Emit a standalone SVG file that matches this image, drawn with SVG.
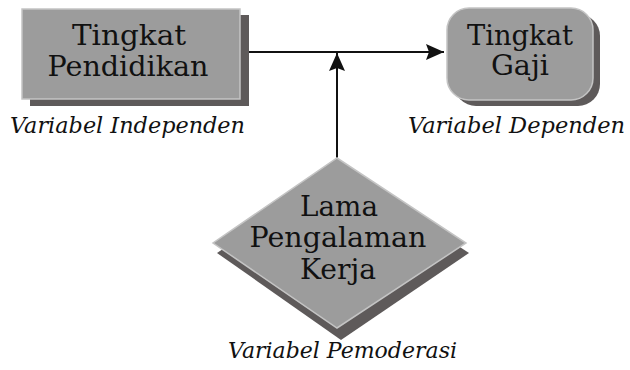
<svg xmlns="http://www.w3.org/2000/svg" width="630" height="370" viewBox="0 0 630 370">
<defs>
<style>
.box{fill:#9c9c9c;stroke:#c4c4c4;stroke-width:1.5}
.shadow{fill:#5e5a5a}
.t{font-family:"DejaVu Serif","Liberation Serif",serif;font-size:27px;fill:#111;text-anchor:middle}
.lbl{font-family:"DejaVu Serif","Liberation Serif",serif;font-style:italic;font-size:22px;fill:#111}
.conn{stroke:#111;stroke-width:2;fill:none}
</style>
<marker id="ah" viewBox="0 0 18 16" refX="18" refY="8" markerWidth="18" markerHeight="16" markerUnits="userSpaceOnUse" orient="auto">
<path d="M0,0 L18,8 L0,16 L3,8 Z" fill="#111"/>
</marker>
</defs>
<rect width="630" height="370" fill="#fff"/>
<g id="connectors">
<line class="conn" x1="249" y1="52" x2="444" y2="52" marker-end="url(#ah)"/>
<line class="conn" x1="337" y1="158" x2="337" y2="53" marker-end="url(#ah)"/>
</g>
<g id="tingkat-pendidikan">
<rect class="shadow" x="30" y="15" width="219" height="91"/>
<rect class="box" x="22" y="9" width="218" height="90"/>
<text class="t" x="129" y="45" textLength="114" lengthAdjust="spacingAndGlyphs">Tingkat</text>
<text class="t" x="128" y="76" textLength="161" lengthAdjust="spacingAndGlyphs">Pendidikan</text>
<text class="lbl" x="10" y="133" textLength="235" lengthAdjust="spacingAndGlyphs">Variabel Independen</text>
</g>
<g id="tingkat-gaji">
<rect class="shadow" x="454" y="14" width="146" height="92" rx="22"/>
<rect class="box" x="447" y="8" width="146" height="92" rx="22"/>
<text class="t" x="520" y="45" textLength="106" lengthAdjust="spacingAndGlyphs">Tingkat</text>
<text class="t" x="520" y="75" textLength="58" lengthAdjust="spacingAndGlyphs">Gaji</text>
<text class="lbl" x="408" y="133" textLength="217" lengthAdjust="spacingAndGlyphs">Variabel Dependen</text>
</g>
<g id="lama-pengalaman-kerja">
<polygon class="shadow" points="341,169 469,253 341,340 217,253"/>
<polygon class="box" points="337,158 466,243 337,328 213,243"/>
<text class="t" x="339" y="216" textLength="78" lengthAdjust="spacingAndGlyphs">Lama</text>
<text class="t" x="338" y="247" textLength="177" lengthAdjust="spacingAndGlyphs">Pengalaman</text>
<text class="t" x="338" y="279" textLength="76" lengthAdjust="spacingAndGlyphs">Kerja</text>
<text class="lbl" x="228" y="358" textLength="229" lengthAdjust="spacingAndGlyphs">Variabel Pemoderasi</text>
</g>
</svg>
